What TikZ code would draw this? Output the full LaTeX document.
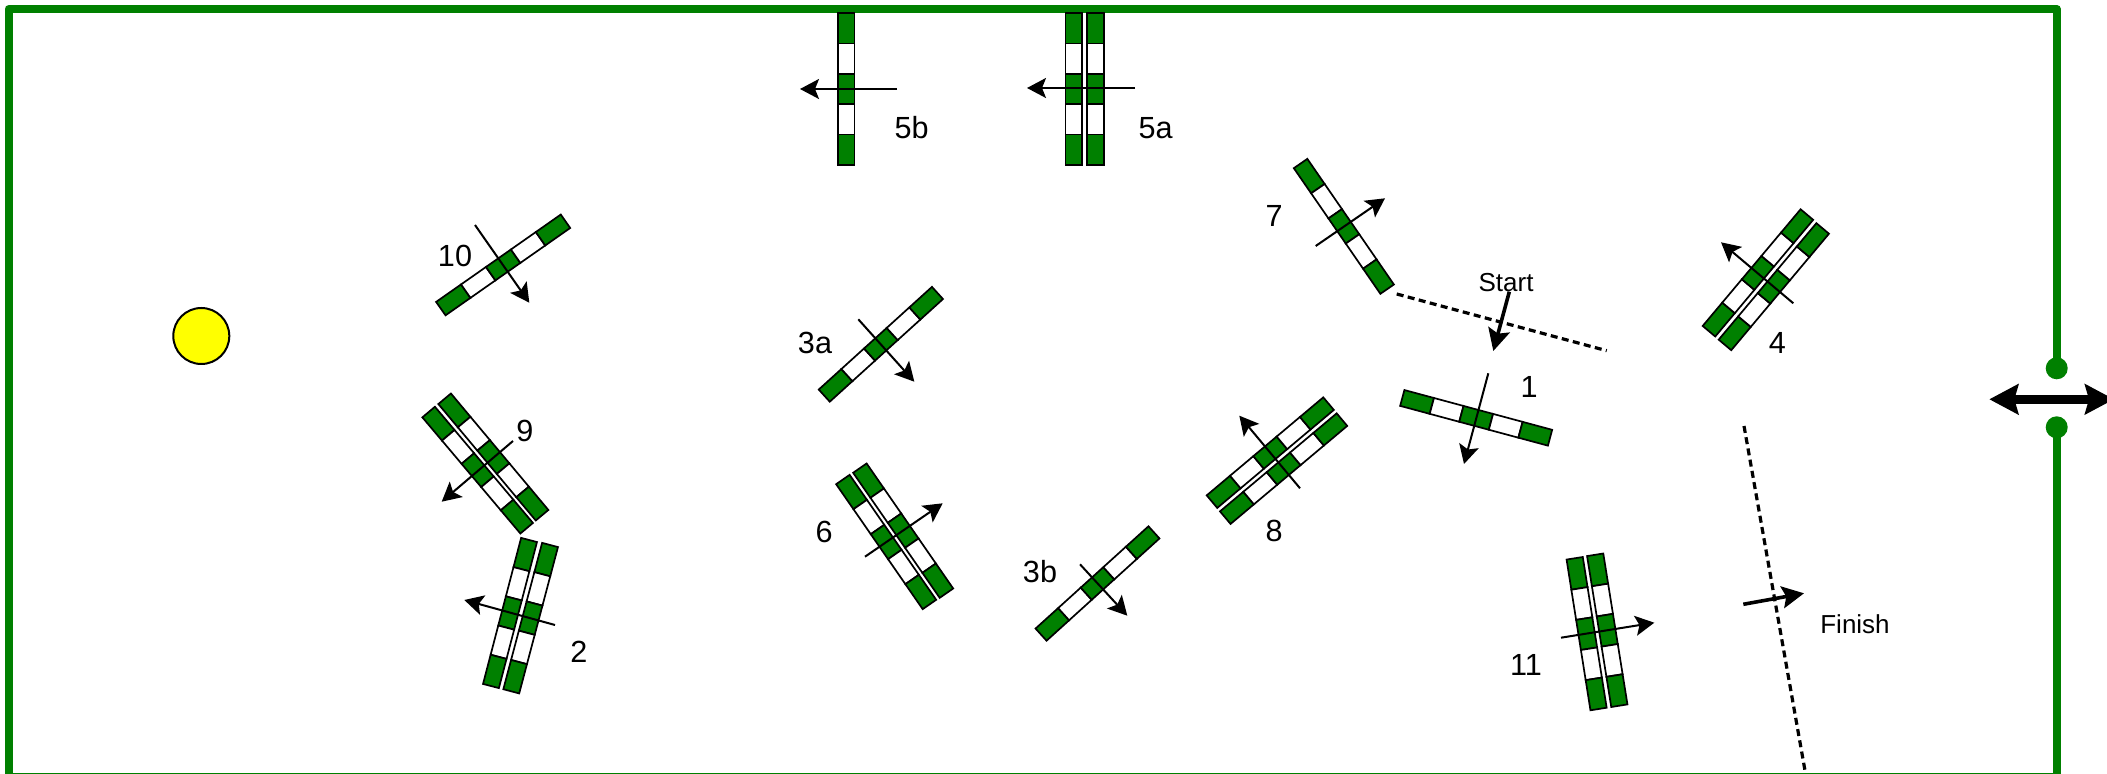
\documentclass[tikz,border=0pt]{standalone}
\usepackage{fontspec}
\setmainfont{Liberation Sans}
\usetikzlibrary{arrows.meta}
\definecolor{fieldgreen}{RGB}{0,128,0}
\definecolor{targetyellow}{RGB}{255,255,0}
\tikzset{
  fence/.style={draw=fieldgreen,line width=4pt,line join=round},
  postdot/.style={circle,fill=fieldgreen,draw=none,minimum size=11pt,inner sep=0pt},
  seggreen/.style={fill=fieldgreen,draw=black,line width=0.85pt,line join=miter},
  segwhite/.style={fill=white,draw=black,line width=0.85pt,line join=miter},
  courseline/.style={draw=black,line width=1pt,-{Stealth[length=9.5pt,width=10pt,inset=2pt]}},
  startline/.style={draw=black,line width=1.8pt,-{Stealth[length=11pt,width=11pt,inset=2pt]}},
  gateline/.style={draw=black,line width=1.6pt,dash pattern=on 3.5pt off 2.2pt},
  openline/.style={draw=black,line width=4.5pt,{Stealth[length=14.5pt,width=15pt,inset=2pt]}-{Stealth[length=14.5pt,width=15pt,inset=2pt]}},
  numlabel/.style={inner sep=0pt,font=\fontsize{15.3}{18}\selectfont},
  wordlabel/.style={inner sep=0pt,font=\fontsize{13}{16}\selectfont},
}
\newcommand{\jumpbar}[4]{%
  \pgfmathsetmacro{\barang}{atan2(-(#4-#2),#3-#1)}%
  \pgfmathsetmacro{\barlen}{0.5*veclen(#3-#1,#4-#2)-1}%
  \pgfmathsetmacro{\barseg}{\barlen/5}%
  \begin{scope}[shift={(#1,#2)},rotate=\barang,xshift=0.5pt]
    \foreach \segi/\segs in {0/seggreen,1/segwhite,2/seggreen,3/segwhite,4/seggreen}{
      \pgfmathsetmacro{\sega}{\segi*\barseg}%
      \pgfmathsetmacro{\segb}{(\segi+1)*\barseg}%
      \path[\segs] (\sega pt,-4.1pt) -- (\segb pt,-4.1pt) -- (\segb pt,4.1pt) -- (\sega pt,4.1pt) -- cycle;
    }
  \end{scope}%
}
\newcommand{\runarrow}[6][courseline]{%
  \coordinate (#2s) at (#3);%
  \coordinate (#2e) at (#4);%
  \draw[#1] (#2s) -- (#2e);%
}
\begin{document}
\begin{tikzpicture}[x=0.5pt,y=-0.5pt]
\useasboundingbox (0,0) rectangle (2107,774);
\fill[white] (0,0) rectangle (2107,774);
\clip (0,0) rectangle (2107,774);
% fence
\coordinate (fenceBL) at (8.5,777);
\coordinate (fenceTL) at (8.5,9);
\coordinate (fenceTR) at (2056.7,9);
\coordinate (fenceBR) at (2056.7,777);
\node[postdot] (postU) at (2056.7,368.3) {};
\node[postdot] (postL) at (2056.7,427.3) {};
\draw[fence] (postU.center) -- (fenceTR) -- (fenceTL) -- (fenceBL) -- (fenceBR) -- (postL.center);
\coordinate (openL) at (1989.3,399.3);
\coordinate (openR) at (2114,399.3);
\draw[openline] (openL) -- (openR);
% hurdle
\node[circle,fill=targetyellow,draw=black,line width=1pt,minimum size=28pt,inner sep=0pt] (target) at (201.3,336) {};
% bars
\jumpbar{846.3}{12}{846.3}{166}
\jumpbar{1073.7}{12}{1073.7}{166}
\jumpbar{1095.5}{12}{1095.5}{166}
\jumpbar{440}{309.2}{566.3}{220.7}
\jumpbar{823.5}{396.3}{938.2}{292.3}
\jumpbar{428}{411.3}{527.3}{529}
\jumpbar{444}{398}{542.7}{516}
\jumpbar{529.3}{539}{490.7}{687}
\jumpbar{550.3}{544}{511}{692.3}
\jumpbar{1300}{162.7}{1387.7}{290}
\jumpbar{1401.3}{397.7}{1551}{438}
\jumpbar{1574.5}{557.3}{1598.7}{710}
\jumpbar{1595}{553.8}{1619.5}{706.7}
\jumpbar{842.3}{478.7}{930}{605.3}
\jumpbar{859.3}{467.3}{947}{594}
\jumpbar{1040.3}{635.3}{1154.7}{531.7}
\jumpbar{1211.2}{502.3}{1329.3}{403}
\jumpbar{1224.5}{518.3}{1342.7}{419}
\jumpbar{1708.3}{332}{1807.5}{213.8}
\jumpbar{1724.3}{345.7}{1823.3}{227.7}
% gate lines
\coordinate (startA) at (1396.7,294);
\coordinate (startB) at (1606.7,350.7);
\draw[gateline] (startA) -- (startB);
\coordinate (finA) at (1744,426);
\coordinate (finB) at (1805,770.7);
\draw[gateline] (finA) -- (finB);
% course arrows
\runarrow{fiveb}{897,89}{800,89}{}{}
\runarrow{fivea}{1135,88}{1027,88}{}{}
\runarrow{ten}{475,225}{529.3,302.7}{}{}
\runarrow{threea}{858.3,319.3}{914.3,381.7}{}{}
\runarrow{nine}{513,441}{441.7,501.7}{}{}
\runarrow{two}{555,625}{464.3,600}{}{}
\runarrow{seven}{1315.7,246}{1385,198.3}{}{}
\runarrow{one}{1488.3,373.3}{1464,464}{}{}
\runarrow{eleven}{1561,637.7}{1654.3,622.7}{}{}
\runarrow{six}{865,556.7}{942.7,503.3}{}{}
\runarrow{threeb}{1080,564.3}{1127.3,615.7}{}{}
\runarrow{eight}{1300,488.3}{1239.3,415.7}{}{}
\runarrow{four}{1793.3,303.3}{1721,242.3}{}{}
\runarrow[startline]{start}{1509.3,291.7}{1493.3,351}{}{}
\runarrow[startline]{finish}{1743.3,604.3}{1804,593.3}{}{}
% labels
\node[numlabel] (l5b) at (911.7,128) {5b};
\node[numlabel] (l5a) at (1155.7,128) {5a};
\node[numlabel] (l10) at (455,256) {10};
\node[numlabel] (l3a) at (815,342.7) {3a};
\node[numlabel] (l9) at (525,430.7) {9};
\node[numlabel] (l2) at (579,651.7) {2};
\node[numlabel] (l7) at (1274,216) {7};
\node[numlabel] (l1) at (1529,387) {1};
\node[numlabel] (l11) at (1526,665) {11};
\node[numlabel] (l6) at (824,532) {6};
\node[numlabel] (l3b) at (1040,571.7) {3b};
\node[numlabel] (l8) at (1274,531) {8};
\node[numlabel] (l4) at (1777.3,342.7) {4};
\node[wordlabel] (lstart) at (1506,283) {Start};
\node[wordlabel] (lfinish) at (1855,624) {Finish};
\end{tikzpicture}
\end{document}
